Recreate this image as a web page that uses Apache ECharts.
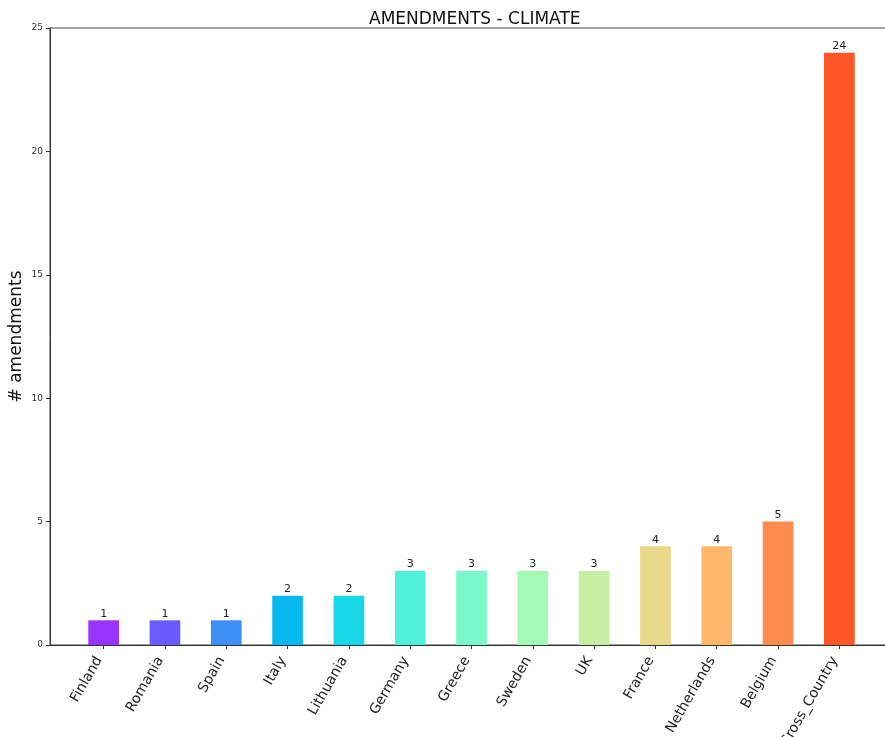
<!DOCTYPE html>
<html>
<head>
<meta charset="utf-8">
<script src="https://cdn.jsdelivr.net/npm/echarts@6/dist/echarts.min.js"></script>
<style>html,body{margin:0;padding:0;background:#fff}#c{width:885px;height:737px}</style>
</head>
<body>
<div id="c"></div>
<script>
const categories = ["Finland","Romania","Spain","Italy","Lithuania","Germany","Greece","Sweden","UK","France","Netherlands","Belgium","Cross_Country"];
const values = [1,1,1,2,2,3,3,3,3,4,4,5,24];
const colors = ["#9933ff","#6b5bff","#3f8ff9","#08b9ef","#19d8e8","#4ff1dc","#79f9c9","#a3f9b7","#c8eea1","#e8d98a","#ffb86b","#ff8b4e","#ff5628"];
const yTicks = [0,5,10,15,20,25];

const chart = echarts.init(document.getElementById('c'), null, {renderer:'canvas'});
const F = 'DejaVu Sans';
const idx = categories.map((_, i) => i);
chart.setOption({
  animation: false,
  backgroundColor: '#fff',
  title: {
    text: 'AMENDMENTS - CLIMATE', left: 364, top: 6,
    textStyle: {fontFamily: F, fontSize: 17, fontWeight: 'normal', color: '#111'}
  },
  grid: {left: 50, top: 28, right: -8, bottom: 92, show: true, borderColor: '#444', borderWidth: 1,
    containLabel: false, outerBoundsMode: 'none'},
  xAxis: {
    type: 'value', min: -0.875, max: 12.875,
    splitLine: {show: false},
    axisLine: {show: true, onZero: false, lineStyle: {color: '#333'}},
    axisTick: {show: true, length: 4, lineStyle: {color: '#333'}, customValues: idx},
    axisLabel: {
      customValues: idx, rotate: 60, margin: 5, padding: [0, 9, 0, 0],
      fontFamily: F, fontSize: 14, color: '#222',
      formatter: v => categories[Math.round(v)] || ''
    }
  },
  yAxis: {
    type: 'value', min: 0, max: 25, interval: 5,
    name: '# amendments', nameLocation: 'middle', nameGap: 25, nameMoveOverlap: false,
    nameTextStyle: {fontFamily: F, fontSize: 17, color: '#111'},
    splitLine: {show: false},
    axisLine: {show: true, onZero: false, lineStyle: {color: '#333'}},
    axisTick: {show: true, length: 4, lineStyle: {color: '#333'}},
    axisLabel: {fontFamily: F, fontSize: 9, color: '#333', margin: 7,
      formatter: v => yTicks.includes(v) ? String(v) : ''}
  },
  series: [{
    type: 'bar',
    barWidth: 30.7,
    data: values.map((v, i) => ({value: [i, v], itemStyle: {color: colors[i]}})),
    label: {show: true, position: 'top', distance: 1, fontFamily: F, fontSize: 11, color: '#222',
      formatter: p => String(p.value[1])}
  }]
});
</script>
</body>
</html>
